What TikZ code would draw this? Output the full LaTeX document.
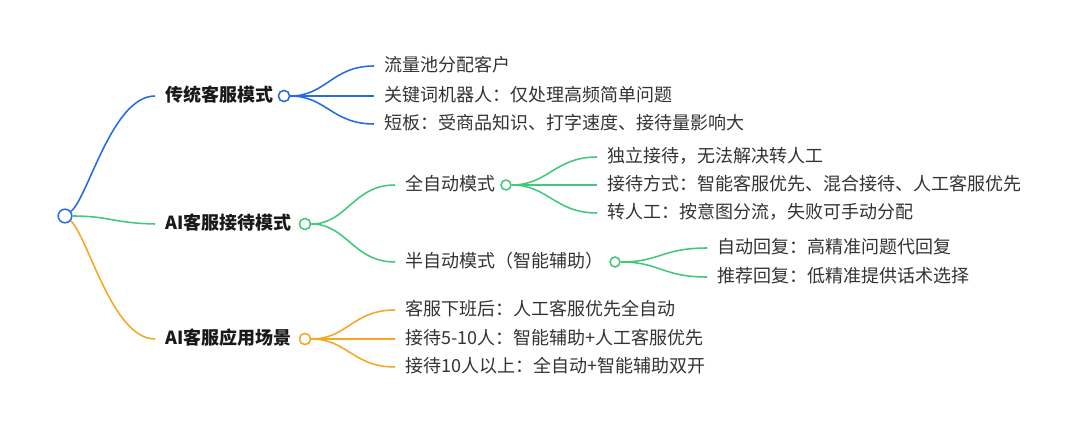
\documentclass[tikz,border=0pt]{standalone}
\usepackage{fontspec}
\setmainfont{Noto Sans CJK SC}
\definecolor{mmblue}{RGB}{36,106,228}
\definecolor{mmgreen}{RGB}{66,200,122}
\definecolor{mmorange}{RGB}{245,166,35}
\definecolor{mmtext}{RGB}{51,51,51}
\begin{document}
\begin{tikzpicture}[x=0.025cm, y=-0.025cm,
        topic/.style={anchor=west, inner xsep=0.25cm, inner ysep=0pt, text height=0.88em, text depth=0.12em, font=\fontsize{12.8}{15}\selectfont\bfseries, text=black!90},
        leaf/.style={anchor=west, inner xsep=0.25cm, inner ysep=0pt, text height=0.88em, text depth=0.12em, font=\fontsize{12.8}{15}\selectfont, text=mmtext},
        knob/.style={circle, draw=#1, fill=white, line width=1.1pt, inner sep=0pt, minimum size=0.28cm},
        link/.style={draw=#1, line width=1.1pt}]
    \useasboundingbox (0,0) rectangle (1080,433);
    % root and main topics
    \node[knob=mmblue, minimum size=0.34cm] (root) at (65,216) {};
    \node[topic] (trad) at (155,96) {传统客服模式};
    \node[topic] (aiserve) at (155,224) {AI客服接待模式};
    \node[topic] (aiscene) at (155,339) {AI客服应用场景};
    \node[knob=mmblue] (tradk) at (284,96) {};
    \node[knob=mmgreen] (aiservek) at (305,224) {};
    \node[knob=mmorange] (aiscenek) at (305,339) {};
    \draw[link=mmblue] (root) .. controls (88,198) and (112,96) .. (trad.west);
    \draw[link=mmgreen] (root) .. controls (110,216) and (112,223) .. (aiserve.west);
    \draw[link=mmorange] (root) .. controls (88,236) and (112,339) .. (aiscene.west);
    % traditional
    \node[leaf] (pool) at (374,66) {流量池分配客户};
    \node[leaf] (robot) at (374,96) {关键词机器人：仅处理高频简单问题};
    \node[leaf] (weak) at (374,124) {短板：受商品知识、打字速度、接待量影响大};
    \foreach \t in {pool,robot,weak}
        \draw[link=mmblue] (tradk) .. controls +(42,0) and +(-42,0) .. (\t.west);
    % AI reception
    \node[leaf] (full) at (395,185) {全自动模式};
    \node[leaf] (semi) at (395,262) {半自动模式（智能辅助）};
    \node[knob=mmgreen, minimum size=0.25cm] (fullk) at (506,185) {};
    \node[knob=mmgreen, minimum size=0.25cm] (semik) at (615,262) {};
    \foreach \t in {full,semi}
        \draw[link=mmgreen] (aiservek) .. controls +(42,0) and +(-42,0) .. (\t.west);
    \node[leaf] (alone) at (597,157) {独立接待，无法解决转人工};
    \node[leaf] (mode) at (597,185) {接待方式：智能客服优先、混合接待、人工客服优先};
    \node[leaf] (handoff) at (597,213) {转人工：按意图分流，失败可手动分配};
    \foreach \t in {alone,mode,handoff}
        \draw[link=mmgreen] (fullk) .. controls +(42,0) and +(-42,0) .. (\t.west);
    \node[leaf] (autoreply) at (707,248) {自动回复：高精准问题代回复};
    \node[leaf] (suggest) at (707,277) {推荐回复：低精准提供话术选择};
    \foreach \t in {autoreply,suggest}
        \draw[link=mmgreen] (semik) .. controls +(45,0) and +(-45,0) .. (\t.west);
    % scenarios
    \node[leaf] (offwork) at (395,310) {客服下班后：人工客服优先全自动};
    \node[leaf] (fewer) at (395,339) {接待5-10人：智能辅助+人工客服优先};
    \node[leaf] (more) at (395,367) {接待10人以上：全自动+智能辅助双开};
    \foreach \t in {offwork,fewer,more}
        \draw[link=mmorange] (aiscenek) .. controls +(42,0) and +(-42,0) .. (\t.west);
\end{tikzpicture}
\end{document}
